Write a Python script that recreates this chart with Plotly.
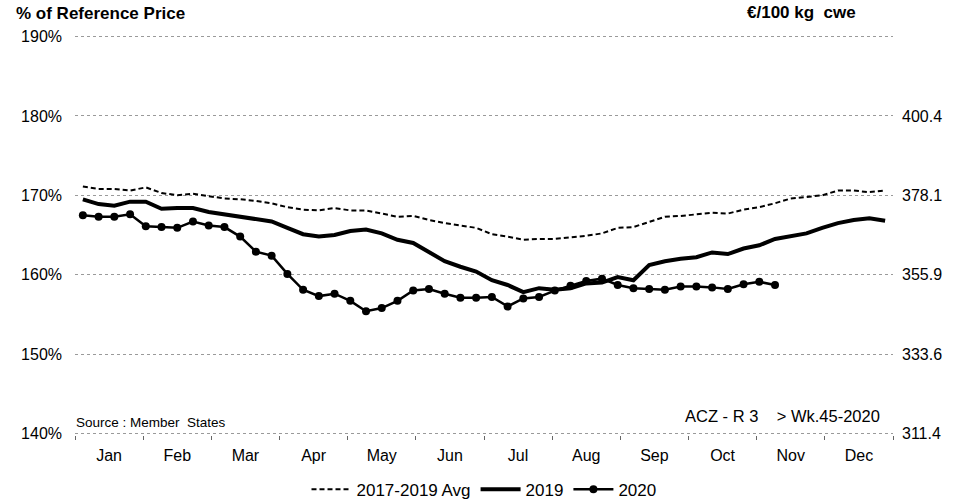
import plotly.graph_objects as go

weeks = list(range(1, 53))
months = ["Jan", "Feb", "Mar", "Apr", "May", "Jun", "Jul", "Aug", "Sep", "Oct", "Nov", "Dec"]

avg_2017_2019 = [171.1, 170.8, 170.8, 170.6, 171.0, 170.3, 170.0, 170.2, 169.9, 169.6,
                 169.5, 169.3, 169.0, 168.5, 168.2, 168.1, 168.4, 168.1, 168.1, 167.7,
                 167.3, 167.4, 166.9, 166.5, 166.2, 165.9, 165.1, 164.8, 164.4, 164.5,
                 164.5, 164.7, 164.9, 165.2, 165.9, 166.0, 166.7, 167.3, 167.4, 167.6,
                 167.8, 167.7, 168.2, 168.5, 169.0, 169.6, 169.8, 170.0, 170.6, 170.6,
                 170.4, 170.6]

y2019 = [169.5, 168.9, 168.7, 169.2, 169.2, 168.3, 168.4, 168.4, 167.9, 167.6,
         167.3, 167.1, 166.7, 165.9, 165.1, 164.8, 165.0, 165.5, 165.7, 165.2,
         164.4, 164.0, 162.9, 161.7, 161.0, 160.4, 159.3, 158.7, 157.8, 158.3,
         158.1, 158.3, 158.9, 159.0, 159.7, 159.3, 161.2, 161.7, 162.0, 162.2,
         162.8, 162.6, 163.3, 163.7, 164.5, 164.8, 165.2, 165.9, 166.5, 166.9,
         167.1, 166.8]

y2020 = [167.5, 167.3, 167.3, 167.6, 166.1, 166.0, 165.9, 166.7, 166.2, 166.0,
         164.8, 162.9, 162.4, 160.1, 158.1, 157.3, 157.6, 156.7, 155.4, 155.8,
         156.7, 158.0, 158.2, 157.6, 157.1, 157.1, 157.2, 156.0, 157.0, 157.2,
         158.0, 158.6, 159.2, 159.5, 158.7, 158.3, 158.2, 158.1, 158.5, 158.5,
         158.4, 158.2, 158.8, 159.1, 158.7]

left_ticks = [140, 150, 160, 170, 180, 190]
left_text = ["140%", "150%", "160%", "170%", "180%", "190%"]
right_ticks = [140, 150, 160, 170, 180]
right_text = ["311.4", "333.6", "355.9", "378.1", "400.4"]

n_weeks = len(weeks)
mw = n_weeks / len(months)
month_centers = [0.5 + (k + 0.5) * mw for k in range(len(months))]
month_bounds = [0.5 + k * mw for k in range(len(months) + 1)]

FONT = "Liberation Sans, Arial, sans-serif"
y_range = [left_ticks[0] - 0.2, left_ticks[-1] + 0.2]

fig = go.Figure()
fig.add_trace(go.Scatter(x=weeks, y=avg_2017_2019, mode="lines", name="2017-2019 Avg",
                         line=dict(color="black", width=2, dash="5px,3px")))
fig.add_trace(go.Scatter(x=weeks, y=y2019, mode="lines", name="2019",
                         line=dict(color="black", width=4)))
fig.add_trace(go.Scatter(x=weeks[:len(y2020)], y=y2020, mode="lines+markers", name="2020",
                         line=dict(color="black", width=2.5),
                         marker=dict(color="black", size=8)))
# invisible trace to drive right axis
fig.add_trace(go.Scatter(x=[weeks[0]], y=[left_ticks[0]], yaxis="y2", showlegend=False,
                         mode="markers", marker=dict(opacity=0), hoverinfo="skip"))

fig.update_layout(
    width=959, height=504,
    margin=dict(l=75, r=66, t=35.4, b=69.4, autoexpand=False),
    paper_bgcolor="white", plot_bgcolor="white",
    font=dict(family=FONT, size=16, color="black"),
    showlegend=True,
    legend=dict(orientation="h", x=0.5, xanchor="center", y=-0.092, yanchor="top",
                font=dict(size=17), itemwidth=40, tracegroupgap=0),
    xaxis=dict(range=[0.5, n_weeks + 0.5], tickmode="array", tickvals=month_centers,
               ticktext=months, ticks="", showgrid=False, zeroline=False, showline=False,
               ticklabelstandoff=9, automargin=False,
               minor=dict(tickmode="array", tickvals=month_bounds, ticks="outside",
                          ticklen=4, tickcolor="#666", showgrid=False)),
    yaxis=dict(range=y_range, tickmode="array", tickvals=left_ticks, ticktext=left_text,
               showgrid=True, gridcolor="#9a9a9a", griddash="dot", gridwidth=1,
               zeroline=False, showline=False, ticks="", ticklabelstandoff=12,
               automargin=False),
    yaxis2=dict(range=y_range, overlaying="y", side="right", tickmode="array",
                tickvals=right_ticks, ticktext=right_text, showgrid=False, zeroline=False,
                showline=False, ticks="", ticklabelstandoff=8, automargin=False),
    annotations=[
        dict(text="<b>% of Reference Price</b>", xref="paper", yref="paper",
             x=-0.074, y=1.053, xanchor="left", yanchor="middle", showarrow=False,
             font=dict(size=17)),
        dict(text="<b>€/100 kg\u00a0\u00a0cwe</b>", xref="paper", yref="paper",
             x=0.888, y=1.056, xanchor="center", yanchor="middle", showarrow=False,
             font=dict(size=17)),
        dict(text="Source : Member\u00a0\u00a0States", xref="paper", yref="paper",
             x=-0.001, y=0.031, xanchor="left", yanchor="middle", showarrow=False,
             font=dict(size=13.5)),
        dict(text="ACZ - R 3\u00a0\u00a0\u00a0\u00a0> Wk.45-2020", xref="paper", yref="paper",
             x=0.986, y=0.047, xanchor="right", yanchor="middle", showarrow=False,
             font=dict(size=16.5)),
    ],
)

fig.write_html("out.html", config={"displayModeBar": False},
               post_script="document.body.style.margin='0';document.body.style.overflow='hidden';")
